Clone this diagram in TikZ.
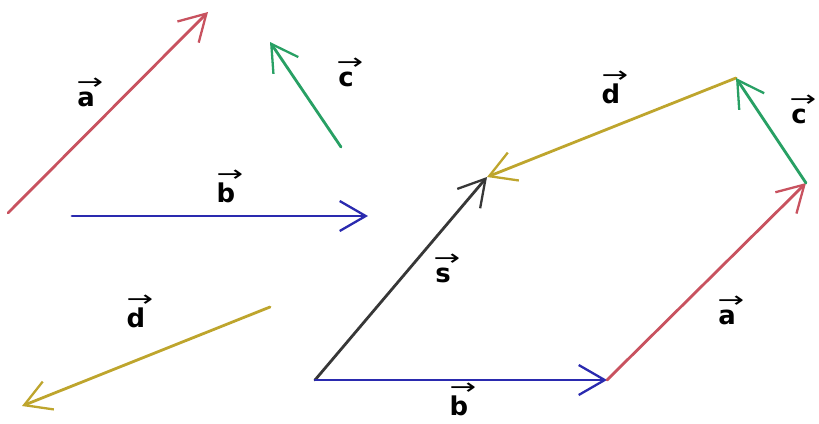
\documentclass[tikz,border=0pt]{standalone}
\usepackage{fontspec}
\setmainfont{DejaVu Sans}
\usetikzlibrary{arrows.meta}
\definecolor{vred}{RGB}{200,82,95}
\definecolor{vgreen}{RGB}{40,160,100}
\definecolor{vblue}{RGB}{42,42,175}
\definecolor{vgold}{RGB}{190,165,45}
\definecolor{vgrey}{RGB}{55,55,55}
\tikzset{
  vec/.style={line width=2.8bp, line cap=round,
    -{Straight Barb[length=26bp,width=30bp,line width=2.3bp]}},
  lab/.style={font=\fontsize{26}{30}\selectfont\bfseries, inner sep=0pt, text=black},
  labarr/.style={font=\fontsize{22}{26}\selectfont, inner sep=0pt, text=black, anchor=south}
}
\newcommand{\vlabel}[3]{%
  \node[lab] (#1) at (#2) {#3};
  \node[labarr] (#1arr) at ([xshift=4bp,yshift=1.5bp]#1.north) {\scalebox{1.45}[1]{→}};
}
\begin{document}
\begin{tikzpicture}[x=1bp,y=-1bp]
\useasboundingbox (0,0) rectangle (819,423);
% free vectors
\coordinate (a1) at (8,213);   \coordinate (a2) at (208,12);
\coordinate (c1) at (341,147); \coordinate (c2) at (270,42);
\coordinate (b1) at (72,216);  \coordinate (b2) at (368,216);
\coordinate (d1) at (270,307); \coordinate (d2) at (22,406);
% polygon
\coordinate (O) at (315,380);
\coordinate (P) at (607,380);
\coordinate (Q) at (806,183);
\coordinate (R) at (736,78);
\coordinate (S) at (487,177);

\draw[vec,vred] (a1) -- (a2);
\draw[vec,vgreen] (c1) -- (c2);
\draw[vec,vblue] (b1) -- (b2);
\draw[vec,vgold] (d1) -- (d2);

\draw[vec,vgrey] (O) -- (S);
\draw[vec,vgold] (R) -- (S);
\draw[vec,vblue] (O) -- (P);
\draw[vec,vred] (P) -- (Q);
\draw[vec,vgreen] (Q) -- (R);

\vlabel{la1}{86,99}{a}
\vlabel{lc1}{346,79}{c}
\vlabel{lb1}{226,193}{b}
\vlabel{ld1}{136,318}{d}
\vlabel{ld2}{611,94}{d}
\vlabel{lc2}{799,116}{c}
\vlabel{ls}{443,275}{s}
\vlabel{la2}{727,317}{a}
\vlabel{lb2}{459,406}{b}
\end{tikzpicture}
\end{document}
